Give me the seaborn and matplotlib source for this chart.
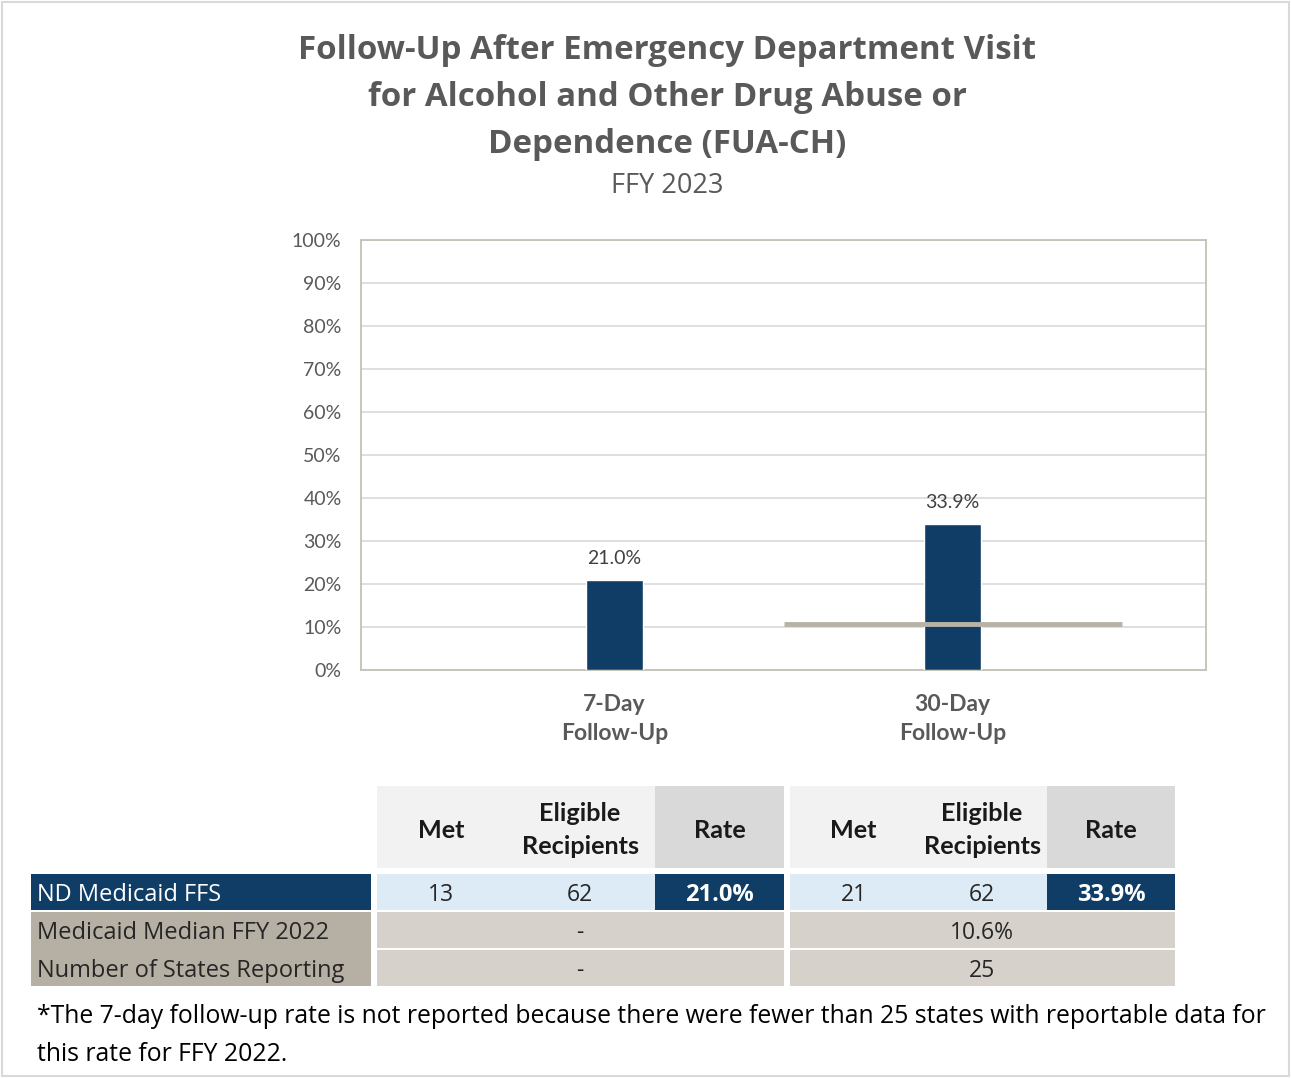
import numpy as np
import pandas as pd
import matplotlib.pyplot as plt
import seaborn as sns
from matplotlib.patches import Rectangle

categories = ["7-Day\nFollow-Up", "30-Day\nFollow-Up"]
rates = [21.0, 33.9]
median_2022 = [None, 10.6]
met = [13, 21]
eligible = [62, 62]
states_reporting = [None, 25]
row_labels = ["ND Medicaid FFS", "Medicaid Median FFY 2022", "Number of States Reporting"]
footnote = ("*The 7-day follow-up rate is not reported because there were fewer than 25 states with reportable data for\n"
            "this rate for FFY 2022.")

navy = "#0F3D66"
tan = "#B6B0A4"
tan_light = "#D6D2CB"
blue_light = "#DDEBF7"
gray_text = "#595959"

sns.set_style("white")
plt.rcParams['font.family'] = ['Lato', 'DejaVu Sans']

df = pd.DataFrame({"measure": categories, "rate": rates})

fig = plt.figure(figsize=(12.91, 10.78), dpi=100)
W, H = 1291, 1078

# chart area
ax = fig.add_axes([361 / W, 1 - 670 / H, (1206 - 361) / W, (670 - 240) / H])
sns.barplot(data=df, x="measure", y="rate", color=navy, width=0.166, saturation=1, ax=ax, zorder=3)
ax.set_xlim(-0.75, 1.75)
ax.set_ylim(0, 100)
ax.set_yticks(np.arange(0, 101, 10))
ax.set_yticklabels([f"{v}%" for v in range(0, 101, 10)], fontsize=14, color=gray_text)
ax.grid(axis="y", color="#D9D9D9", lw=1.2, zorder=0)
ax.tick_params(axis="y", length=0, pad=14)
ax.tick_params(axis="x", length=0, pad=17)
for lbl in ax.get_xticklabels():
    lbl.set_fontsize(16.5)
    lbl.set_fontweight("bold")
    lbl.set_color(gray_text)
    lbl.set_linespacing(1.5)
ax.set_xlabel("")
ax.set_ylabel("")
for s in ax.spines.values():
    s.set_visible(True)
    s.set_color("#C4C0B8")
    s.set_linewidth(1.3)

for i, r in enumerate(rates):
    ax.text(i, r + 3, f"{r:.1f}%", ha="center", va="bottom", fontsize=14, color="#404040")
for i, m in enumerate(median_2022):
    if m is not None:
        ax.hlines(m, i - 0.5, i + 0.5, color="#B8B3A7", lw=3.5, zorder=4)

# titles
fig.text(667 / W, 1 - 34 / H, "Follow-Up After Emergency Department Visit\nfor Alcohol and Other Drug Abuse or\nDependence (FUA-CH)",
         ha="center", va="top", fontsize=23.8, fontweight="bold", color=gray_text, family="Open Sans",
         linespacing=1.56)
fig.text(667 / W, 1 - 186 / H, "FFY 2023", ha="center", va="center", fontsize=19.5, color=gray_text,
         family="Open Sans")

# table drawn on an overlay in pixel coordinates
tab = fig.add_axes([0, 0, 1, 1], facecolor="none")
tab.set_xlim(0, W)
tab.set_ylim(H, 0)
tab.axis("off")

def cell(x0, x1, y0, y1, fc):
    tab.add_patch(Rectangle((x0, y0), x1 - x0, y1 - y0, facecolor=fc, edgecolor="none"))

groups = [(377, 505, 655, 784), (790, 917, 1047, 1175)]
hy0, hy1 = 786, 868
ry = [(874, 910), (912, 948), (950, 986)]
body = dict(family="Open Sans", fontsize=16.5, color="#262626", va="center")
head = dict(ha="center", va="center", fontsize=18.2, fontweight="bold", color="#1A1A1A")
dy = 3  # Open Sans sits a little high when centred

for g, (a, b, c, d) in enumerate(groups):
    cell(a, c, hy0, hy1, "#F2F2F2")
    cell(c, d, hy0, hy1, "#D9D9D9")
    tab.text((a + b) / 2, (hy0 + hy1) / 2 + 3, "Met", **head)
    tab.text((b + c) / 2, (hy0 + hy1) / 2 + 3, "Eligible\nRecipients", linespacing=1.5, **head)
    tab.text((c + d) / 2, (hy0 + hy1) / 2 + 3, "Rate", **head)

    y0, y1 = ry[0]
    cell(a, c, y0, y1, blue_light)
    cell(c, d, y0, y1, navy)
    tab.text((a + b) / 2, (y0 + y1) / 2 + dy, str(met[g]), ha="center", **body)
    tab.text((b + c) / 2, (y0 + y1) / 2 + dy, str(eligible[g]), ha="center", **body)
    tab.text((c + d) / 2, (y0 + y1) / 2 + dy, f"{rates[g]:.1f}%", ha="center", va="center", fontsize=17,
             fontweight="bold", color="white", family="Open Sans")

    vals = [f"{median_2022[g]:.1f}%" if median_2022[g] is not None else "-",
            str(states_reporting[g]) if states_reporting[g] is not None else "-"]
    for k, v in enumerate(vals):
        y0, y1 = ry[k + 1]
        cell(a, d, y0, y1, tan_light)
        tab.text((b + c) / 2, (y0 + y1) / 2 + dy, v, ha="center", **body)

cell(31, 371, ry[0][0], ry[0][1], navy)
cell(31, 371, ry[1][0], ry[2][1], tan)
tab.text(37, sum(ry[0]) / 2 + dy, row_labels[0], ha="left", family="Open Sans", fontsize=17, color="white", va="center")
tab.text(37, sum(ry[1]) / 2 + dy, row_labels[1], ha="left", **{**body, "fontsize": 17})
tab.text(37, sum(ry[2]) / 2 + dy, row_labels[2], ha="left", **{**body, "fontsize": 17})

tab.text(37, 1004, footnote, ha="left", va="top", fontsize=17.8, color="black", family="Open Sans",
         linespacing=1.68)

# outer border
tab.add_patch(Rectangle((2, 2), W - 4, H - 4, facecolor="none", edgecolor="#D9D9D9", lw=1.5))

fig.savefig("out.png", dpi=100)
